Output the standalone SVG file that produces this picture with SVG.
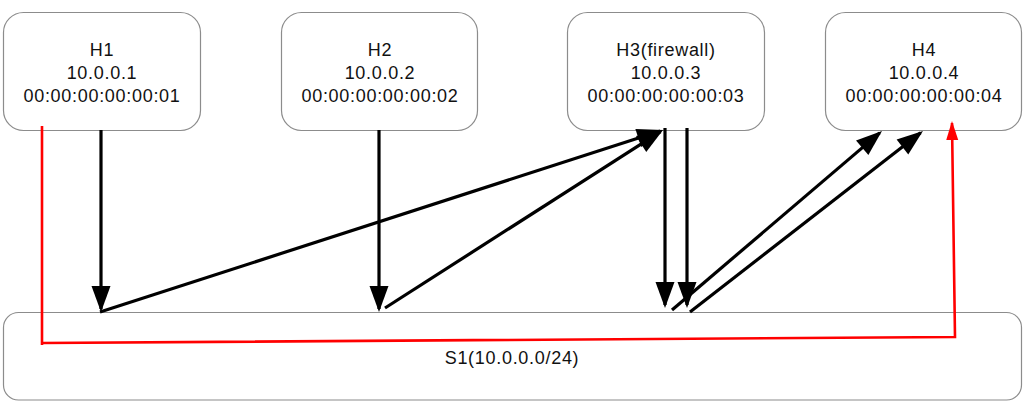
<svg xmlns="http://www.w3.org/2000/svg" width="1024" height="411" viewBox="0 0 1024 411">
<defs>
<style>
.box{fill:#fff;stroke:#8c8c8c;stroke-width:1.2}
.lbl{font-family:"Liberation Sans",Arial,sans-serif;font-size:18px;letter-spacing:0.7px;fill:#111;text-anchor:middle}
.blk{fill:none;stroke:#000;stroke-width:3.2;marker-end:url(#ah)}
.red{fill:none;stroke:#ff0000;stroke-width:2.6;marker-end:url(#ahr)}
</style>
<marker id="ah" markerUnits="userSpaceOnUse" markerWidth="27" markerHeight="20" refX="23" refY="9.5" orient="auto" overflow="visible">
<path d="M0,0 L26,9.5 L0,19 Z" fill="#000"/>
</marker>
<marker id="ahr" markerUnits="userSpaceOnUse" markerWidth="20" markerHeight="13" refX="17" refY="6" orient="auto" overflow="visible">
<path d="M0,0 L19,6 L0,12 Z" fill="#ff0000"/>
</marker>
</defs>
<rect width="1024" height="411" fill="#fff"/>
<g id="S1">
<rect class="box" x="3.5" y="312.5" width="1018" height="87.5" rx="15" ry="15"/>
<text class="lbl" x="512" y="364">S1(10.0.0.0/24)</text>
</g>
<g id="H1">
<rect class="box" x="3.5" y="12.5" width="197" height="118" rx="20" ry="20"/>
<text class="lbl" x="102" y="56">H1</text>
<text class="lbl" x="102" y="79">10.0.0.1</text>
<text class="lbl" x="102" y="102">00:00:00:00:00:01</text>
</g>
<g id="H2">
<rect class="box" x="281.5" y="12.5" width="196" height="118" rx="20" ry="20"/>
<text class="lbl" x="380" y="56">H2</text>
<text class="lbl" x="380" y="79">10.0.0.2</text>
<text class="lbl" x="380" y="102">00:00:00:00:00:02</text>
</g>
<g id="H3">
<rect class="box" x="567.5" y="12.5" width="197" height="118" rx="20" ry="20"/>
<text class="lbl" x="666" y="56">H3(firewall)</text>
<text class="lbl" x="666" y="79">10.0.0.3</text>
<text class="lbl" x="666" y="102">00:00:00:00:00:03</text>
</g>
<g id="H4">
<rect class="box" x="825.5" y="12.5" width="196" height="118" rx="20" ry="20"/>
<text class="lbl" x="924" y="56">H4</text>
<text class="lbl" x="924" y="79">10.0.0.4</text>
<text class="lbl" x="924" y="102">00:00:00:00:00:04</text>
</g>
<g id="connectors">
<path class="blk" d="M101,130 L101,309"/>
<path class="blk" d="M379,130 L379,309"/>
<path class="blk" d="M100,312 L660.2,130.9"/>
<path class="blk" d="M385,308 L660.5,131.6"/>
<path class="blk" d="M665,128 L665,305"/>
<path class="blk" d="M687,128 L687,305"/>
<path class="blk" d="M672,310 L879.7,132.9"/>
<path class="blk" d="M690,312 L920.6,132.8"/>
<path class="red" d="M42,126 L42,345 M42,343 L955,337 L952,123"/>
</g>
</svg>
